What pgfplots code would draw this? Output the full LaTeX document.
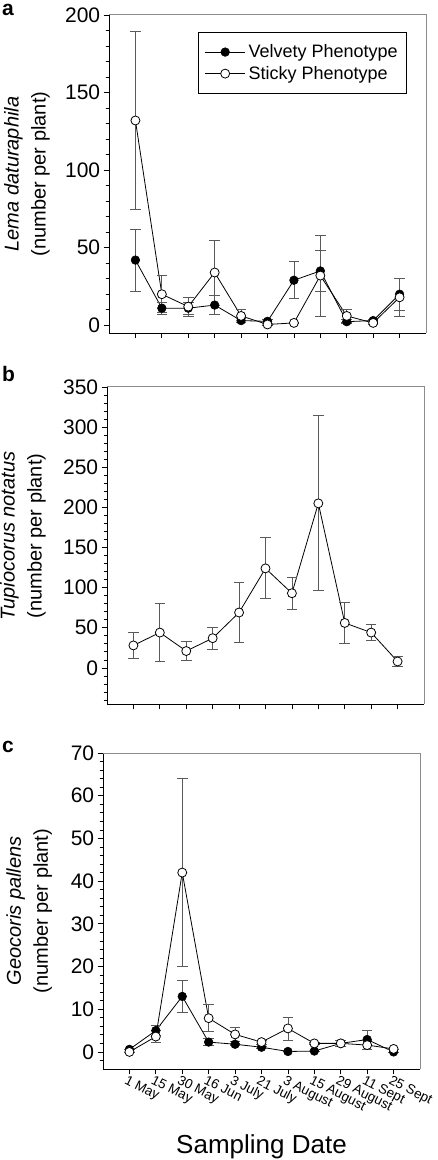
\documentclass[border=0pt]{standalone}
\usepackage{pgfplots}
\pgfplotsset{compat=1.18}
\usepackage{pgfplotstable}
\usepackage{fontspec}
\setmainfont{Liberation Sans}

\pgfplotstableread{
x v ve s se
0 42 20 132 57.5
1 11 3.7 20 12
2 11 4 12 6
3 13 6 34 21
4 3 1.2 6 4
5 2.5 1 0.5 0.5
6 29 12 1.5 0.5
7 35 13 32 26
8 2.3 1.2 6 4
9 3 1 1.5 1
10 20 10.5 18 12.5
}\lema

\pgfplotstableread{
x s se
0 28 16
1 44 36
2 21 12
3 37 14
4 69 37
5 124 38
6 93 20
7 205 109
8 56 26
9 44 10
10 8 6
}\tupio

\pgfplotstableread{
x v ve s se
0 0.6 0 0 0
1 5 1.2 3.6 1.4
2 13 3.8 42 22
3 2.3 0.8 7.9 3.2
4 1.8 0.3 4.1 1.6
5 1.1 0.2 2.3 0.5
6 0.1 0 5.5 2.7
7 0.2 0 2.0 0.3
8 2.0 0.7 2.0 0.7
9 2.9 2.2 1.6 1.0
10 0 0 0.7 0
}\geoc

\definecolor{errgray}{RGB}{90,90,90}
\definecolor{framegray}{RGB}{140,140,140}

\pgfplotsset{
  panel/.style={
    scale only axis, width=317pt,
    axis lines=left, axis line style={-, black, line width=0.9pt},
    enlargelimits=false, clip=false,
    xmin=-1, xmax=11, xtick={0,...,10},
    tick align=outside, tick pos=left,
    major tick length=5.3pt, minor tick length=3.3pt,
    every tick/.style={black, line width=0.7pt},
    tick label style={font=\fontsize{21}{21}\selectfont},
    /pgf/number format/assume math mode=true,
    ylabel style={align=center, font=\fontsize{20}{27}\selectfont, anchor=center},
    after end axis/.code={\draw[framegray, line width=1pt] (rel axis cs:0,1) -- (rel axis cs:1,1) -- (rel axis cs:1,0);},
    error bars/error bar style={errgray, line width=0.8pt},
    error bars/error mark options={rotate=90, mark size=5.3pt, errgray, line width=0.8pt},
    legend image code/.code={\draw[mark repeat=2,mark phase=2,#1] plot coordinates {(0pt,0pt) (20pt,0pt) (40pt,0pt)};},
  },
  velv/.style={black, line width=0.8pt, mark=*, mark size=4.3pt, mark options={fill=black, draw=black, line width=0.6pt}},
  stic/.style={black, line width=0.8pt, mark=*, mark size=4.5pt, mark options={fill=white, draw=black, line width=0.8pt}},
}

\begin{document}
\begin{tikzpicture}
\useasboundingbox (0,0) rectangle (438pt,1160pt);

% Panel a
\begin{axis}[panel, at={(109pt,827pt)}, anchor=south west, height=318pt,
  ymin=-5, ymax=200, ytick={0,50,...,200}, minor ytick={10,20,30,40,60,70,80,90,110,120,130,140,160,170,180,190},
  xticklabels={},
  ylabel={\textit{Lema daturaphila}\\(number per plant)},
  ylabel style={at={(axis description cs:-0.259,0.5)}},
  legend style={at={(axis description cs:0.94,0.9465)}, anchor=north east, draw=black, line width=0.6pt,
    font=\fontsize{18}{20}\selectfont, inner xsep=6pt, inner ysep=9pt,
    nodes={inner ysep=3.5pt, inner xsep=3pt}},
  legend cell align=left]
\addplot[velv, error bars/.cd, y dir=both, y explicit] table[x=x, y=v, y error=ve] {\lema};
\addlegendentry{Velvety Phenotype}
\addplot[stic, error bars/.cd, y dir=both, y explicit] table[x=x, y=s, y error=se] {\lema};
\addlegendentry{Sticky Phenotype}
\end{axis}

% Panel b
\begin{axis}[panel, at={(107pt,456pt)}, anchor=south west, height=317pt,
  ymin=-45, ymax=350, ytick={0,50,...,350},
  minor ytick={-40,-30,-20,-10,10,20,30,40,60,70,80,90,110,120,130,140,160,170,180,190,210,220,230,240,260,270,280,290,310,320,330,340},
  xticklabels={},
  ylabel={\textit{Tupiocorus notatus}\\(number per plant)},
  ylabel style={at={(axis description cs:-0.265,0.53)}}]
\addplot[stic, error bars/.cd, y dir=both, y explicit] table[x=x, y=s, y error=se] {\tupio};
\end{axis}

% Panel c
\begin{axis}[panel, at={(103pt,91pt)}, anchor=south west, height=316pt,
  ymin=-4, ymax=70, ytick={0,10,...,70},
  minor ytick={-2,2,4,6,8,12,14,16,18,22,24,26,28,32,34,36,38,42,44,46,48,52,54,56,58,62,64,66,68},
  xticklabels={1 May,15 May,30 May,16 Jun,3 July,21 July,3 August,15 August,29 August,11 Sept,25 Sept},
  xticklabel style={rotate=-27, anchor=north west, font=\fontsize{13.5}{13.5}\selectfont, xshift=-2pt, inner sep=1pt},
  xlabel={Sampling Date},
  xlabel style={at={(axis description cs:0.5,-0.266)}, anchor=base, font=\fontsize{26}{26}\selectfont},
  ylabel={\textit{Geocoris pallens}\\(number per plant)},
  ylabel style={at={(axis description cs:-0.233,0.5)}}]
\addplot[velv, error bars/.cd, y dir=both, y explicit] table[x=x, y=v, y error=ve] {\geoc};
\addplot[stic, error bars/.cd, y dir=both, y explicit] table[x=x, y=s, y error=se] {\geoc};
\end{axis}

\node[anchor=base west, inner sep=0pt, font=\fontsize{21}{21}\selectfont\bfseries] at (2pt,1144pt) {a};
\node[anchor=base west, inner sep=0pt, font=\fontsize{21}{21}\selectfont\bfseries] at (2pt,778.3pt) {b};
\node[anchor=base west, inner sep=0pt, font=\fontsize{21}{21}\selectfont\bfseries] at (2pt,407pt) {c};
\end{tikzpicture}
\end{document}
